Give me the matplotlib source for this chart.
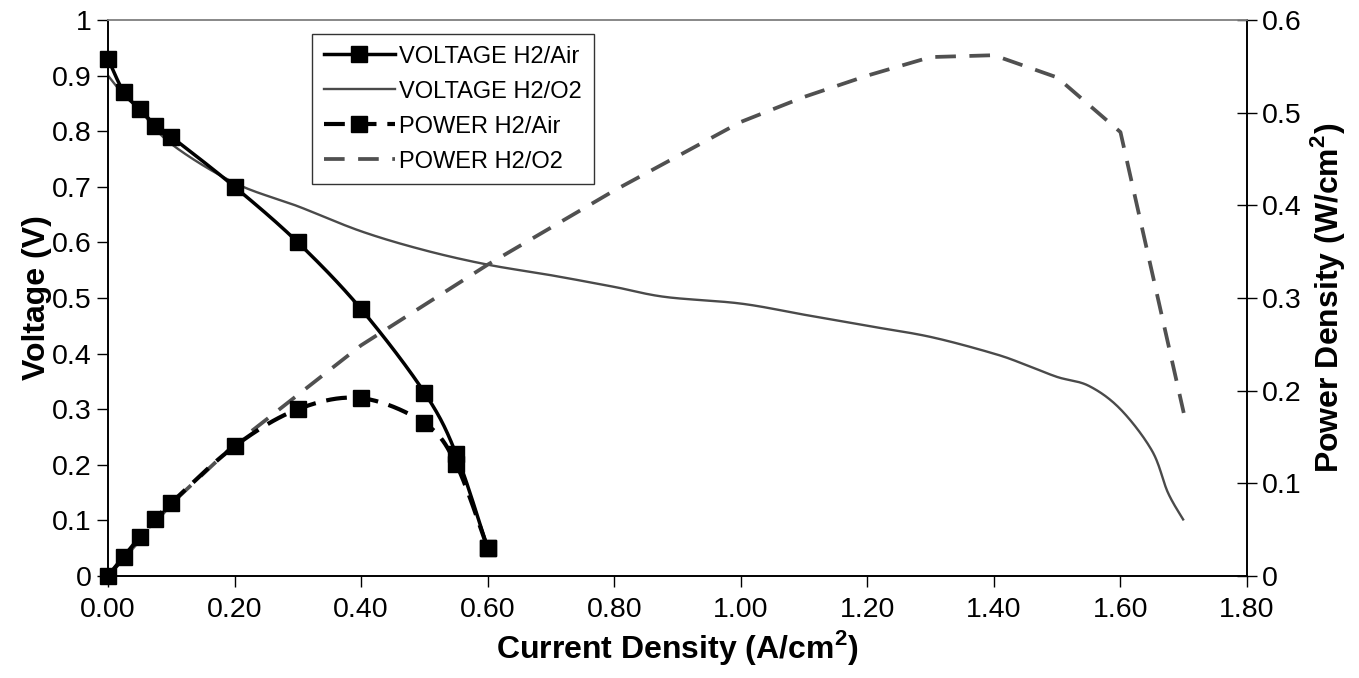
import numpy as np
import matplotlib
matplotlib.use("Agg")
import matplotlib.pyplot as plt
from matplotlib.lines import Line2D

plt.rcParams['font.family'] = ['Liberation Sans', 'DejaVu Sans']

# H2/Air polarisation data (current density A/cm2, voltage V, power W/cm2)
air_current = [0.0, 0.025, 0.05, 0.075, 0.1, 0.2, 0.3, 0.4, 0.5, 0.55, 0.6]
air_voltage = [0.93, 0.87, 0.84, 0.81, 0.79, 0.70, 0.60, 0.48, 0.33, 0.22, 0.05]
air_power = [0.0, 0.021, 0.042, 0.061, 0.079, 0.14, 0.18, 0.192, 0.165, 0.121, 0.03]

# H2/O2 voltage curve
o2_v_current = [0.0, 0.025, 0.05, 0.1, 0.2, 0.3, 0.4, 0.5, 0.6, 0.7, 0.8, 0.88,
                1.0, 1.1, 1.2, 1.3, 1.4, 1.45, 1.5, 1.55, 1.6, 1.65, 1.675, 1.7]
o2_voltage = [0.90, 0.865, 0.838, 0.777, 0.707, 0.665, 0.62, 0.586, 0.56, 0.541,
              0.52, 0.502, 0.49, 0.47, 0.45, 0.43, 0.40, 0.38, 0.358, 0.342,
              0.30, 0.225, 0.15, 0.10]

# H2/O2 power curve
o2_p_current = [0.0, 0.1, 0.2, 0.4, 0.6, 0.8, 1.0, 1.1, 1.2, 1.3, 1.4, 1.5, 1.6, 1.7]
o2_power = [0.0, 0.078, 0.142, 0.249, 0.336, 0.416, 0.49, 0.517, 0.54, 0.56,
            0.562, 0.538, 0.479, 0.176]

x_ticks = [0.0, 0.2, 0.4, 0.6, 0.8, 1.0, 1.2, 1.4, 1.6, 1.8]
v_ticks = [0, 0.1, 0.2, 0.3, 0.4, 0.5, 0.6, 0.7, 0.8, 0.9, 1]
p_ticks = [0, 0.1, 0.2, 0.3, 0.4, 0.5, 0.6]


def smooth(x, y, xr, yr, n=24):
    """Bezier smoothing through the points (spreadsheet-style smoothed line)."""
    p = np.column_stack([np.asarray(x) / xr, np.asarray(y) / yr])
    out = [p[0]]
    t = np.linspace(0, 1, n)[1:, None]
    for i in range(len(p) - 1):
        p0 = p[i - 1] if i > 0 else p[i]
        p1, p2 = p[i], p[i + 1]
        p3 = p[i + 2] if i + 2 < len(p) else p[i + 1]
        c1 = p1 + (p2 - p0) / 6.0
        c2 = p2 - (p3 - p1) / 6.0
        seg = ((1 - t) ** 3) * p1 + 3 * ((1 - t) ** 2) * t * c1 \
            + 3 * (1 - t) * t ** 2 * c2 + t ** 3 * p2
        out.extend(seg)
    out = np.array(out)
    return out[:, 0] * xr, out[:, 1] * yr


fig = plt.figure(figsize=(13.59, 6.78), dpi=100)
ax = fig.add_axes([0.0795, 0.1504, 0.8381, 0.8201])
ax2 = ax.twinx()

ax.set_xlim(0, 1.8)
ax.set_ylim(0, 1)
ax2.set_ylim(0, 0.6)

black = '#000000'
gray = '#4a4a4a'

# H2/O2 voltage (thin gray, smoothed)
sx, sy = smooth(o2_v_current, o2_voltage, 1.8, 1.0)
ax.plot(sx, sy, color=gray, lw=1.7, solid_capstyle='butt', zorder=2)

# H2/Air voltage (black, smoothed, square markers)
sx, sy = smooth(air_current, air_voltage, 1.8, 1.0)
ax.plot(sx, sy, color=black, lw=2.5, zorder=3, clip_on=False)
ax.plot(air_current, air_voltage, 's', color=black, ms=11, zorder=4, clip_on=False)

# H2/O2 power (gray dashed, straight segments)
ax2.plot(o2_p_current, o2_power, color='#505050', lw=2.7,
         dashes=(5.5, 3.6), zorder=2)

# H2/Air power (black dashed, smoothed, square markers)
sx, sy = smooth(air_current, air_power, 1.8, 0.6)
ax2.plot(sx, sy, color=black, lw=3.0, dashes=(5.0, 2.6), zorder=3, clip_on=False)
ax2.plot(air_current, air_power, 's', color=black, ms=11, zorder=4, clip_on=False)

# axes styling
ax.set_xticks(x_ticks)
ax.set_xticklabels([f"{v:.2f}" for v in x_ticks])
ax.set_yticks(v_ticks)
ax.set_yticklabels(["0" if v == 0 else ("1" if v == 1 else f"{v:.1f}") for v in v_ticks])
ax2.set_yticks(p_ticks)
ax2.set_yticklabels(["0" if v == 0 else f"{v:.1f}" for v in p_ticks])

ax.tick_params(axis='x', direction='out', length=8, width=1, labelsize=20.5, pad=7)
ax.tick_params(axis='y', direction='out', length=8, width=1, labelsize=20.5, pad=4)
ax2.tick_params(axis='y', direction='inout', length=14, width=1, labelsize=20.5, pad=4)

for a in (ax, ax2):
    a.spines['top'].set_color('#888888')
    a.spines['top'].set_linewidth(1.2)
    for s in ('left', 'right', 'bottom'):
        a.spines[s].set_color('#000000')
        a.spines[s].set_linewidth(1.2)

ax.set_xlabel('Current Density (A/cm$^\\mathregular{2}$)', fontsize=23,
              fontweight='bold', labelpad=4)
ax.set_ylabel('Voltage (V)', fontsize=23, fontweight='bold', labelpad=0)
ax2.set_ylabel('Power Density (W/cm$^\\mathregular{2}$)', fontsize=23,
               fontweight='bold', labelpad=4)

handles = [
    Line2D([], [], color=black, lw=2.5, marker='s', ms=11),
    Line2D([], [], color=gray, lw=1.7),
    Line2D([], [], color=black, lw=3.0, dashes=(5.0, 2.6), marker='s', ms=11),
    Line2D([], [], color='#505050', lw=2.7, dashes=(5.5, 3.6)),
]
labels = ['VOLTAGE H2/Air', 'VOLTAGE H2/O2', 'POWER H2/Air', 'POWER H2/O2']
leg = ax2.legend(handles, labels, loc='upper left', bbox_to_anchor=(0.179, 0.975),
                 fontsize=17, frameon=True, fancybox=False, framealpha=1,
                 edgecolor='#333333', handlelength=3.0, handletextpad=0.2,
                 labelspacing=0.55, borderpad=0.5, numpoints=1, borderaxespad=0)
leg.get_frame().set_linewidth(1.0)

fig.savefig('out.png', dpi=100)
